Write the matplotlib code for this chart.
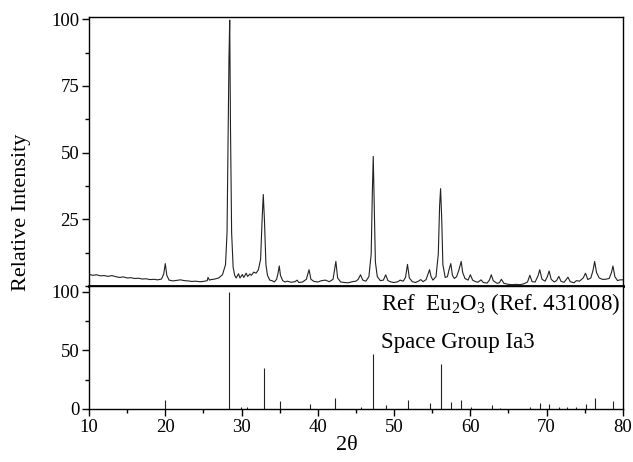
import matplotlib
matplotlib.use("Agg")
import matplotlib.pyplot as plt
from matplotlib.ticker import MultipleLocator

plt.rcParams["font.family"] = ["Liberation Serif", "DejaVu Serif"]
plt.rcParams["mathtext.fontset"] = "custom"
plt.rcParams["mathtext.rm"] = "Liberation Serif"

two_theta = [10.0, 10.5, 11.0, 11.5, 12.0, 12.5, 13.0, 13.5, 14.0, 14.5, 15.0, 15.5, 16.0, 16.5,
             17.0, 17.5, 18.0, 18.5, 19.0, 19.5, 19.8, 20.0, 20.2, 20.5, 21.0, 21.5, 22.0, 22.5,
             23.0, 23.5, 24.0, 24.5, 25.0, 25.5, 25.6, 25.8, 26.0, 26.5, 27.0, 27.5, 27.9, 28.1,
             28.25, 28.35, 28.45, 28.55, 28.7, 28.9, 29.1, 29.3, 29.6, 29.8, 30.1, 30.3, 30.6,
             30.8, 31.1, 31.3, 31.6, 31.9, 32.2, 32.5, 32.7, 32.85, 33.0, 33.2, 33.4, 33.7, 34.0,
             34.3, 34.6, 34.8, 34.95, 35.1, 35.4, 35.7, 36.0, 36.5, 37.0, 37.3, 37.5, 38.0, 38.5,
             38.85, 39.1, 39.5, 40.0, 40.5, 41.0, 41.5, 42.0, 42.37, 42.6, 43.0, 43.5, 44.0, 44.5,
             45.0, 45.3, 45.6, 45.9, 46.3, 46.7, 47.0, 47.15, 47.27, 47.4, 47.55, 47.8, 48.2, 48.6,
             48.9, 49.2, 49.6, 50.0, 50.5, 50.8, 51.2, 51.5, 51.76, 52.0, 52.4, 52.8, 53.2, 53.5,
             53.8, 54.2, 54.45, 54.65, 54.85, 55.1, 55.5, 55.8, 55.97, 56.1, 56.25, 56.4, 56.7,
             57.0, 57.2, 57.44, 57.65, 57.9, 58.2, 58.5, 58.8, 59.0, 59.3, 59.7, 60.0, 60.3, 60.7,
             61.0, 61.4, 61.7, 62.2, 62.5, 62.75, 63.0, 63.5, 63.8, 64.07, 64.4, 65.0, 65.5, 66.0,
             66.5, 67.0, 67.5, 67.8, 68.1, 68.5, 68.9, 69.1, 69.4, 69.8, 70.1, 70.33, 70.6, 71.0,
             71.3, 71.6, 71.9, 72.3, 72.8, 73.1, 73.6, 73.9, 74.3, 74.8, 75.1, 75.4, 75.8, 76.1,
             76.3, 76.55, 76.9, 77.3, 77.7, 78.2, 78.5, 78.7, 78.95, 79.3, 79.6, 80.0]
intensity = [4.4, 4.0, 4.2, 3.8, 3.9, 3.6, 3.9, 3.5, 3.2, 3.4, 3.0, 3.1, 2.8, 2.9,
             2.6, 2.7, 2.4, 2.5, 2.3, 2.6, 4.5, 8.4, 4.0, 2.2, 1.9, 2.1, 2.3, 2.0,
             1.9, 1.7, 1.8, 1.6, 1.7, 2.0, 3.2, 2.2, 2.4, 2.6, 3.0, 4.2, 8.0, 20.0,
             60.0, 85.0, 99.7, 60.0, 20.0, 7.0, 4.0, 3.0, 4.6, 3.0, 4.3, 3.2, 4.8,
             3.6, 4.5, 4.0, 5.2, 4.8, 6.0, 10.0, 25.0, 34.3, 25.0, 8.0, 4.0, 2.2, 2.0,
             1.5, 2.5, 5.0, 7.5, 4.0, 2.0, 1.5, 1.8, 1.4, 1.6, 2.2, 1.3, 1.5, 2.5,
             6.1, 2.5, 1.7, 1.5, 2.0, 2.2, 1.6, 2.5, 9.2, 3.0, 1.5, 1.3, 1.2, 1.6,
             1.8, 2.5, 4.2, 2.2, 1.8, 3.5, 12.0, 35.0, 48.6, 30.0, 9.0, 3.5, 2.0, 2.2,
             4.2, 2.0, 1.5, 1.3, 1.6, 2.2, 1.8, 3.2, 8.1, 3.0, 1.6, 1.3, 1.8, 2.4,
             1.6, 2.4, 4.5, 6.1, 3.5, 2.2, 3.5, 12.0, 30.0, 36.5, 25.0, 8.0, 3.2,
             3.5, 6.0, 8.4, 4.0, 2.8, 3.5, 6.0, 9.2, 5.0, 2.8, 2.2, 4.2, 2.2, 1.6,
             1.4, 2.3, 1.3, 1.1, 2.2, 4.2, 2.0, 1.0, 1.2, 2.5, 1.0, 0.6, 0.5, 0.6,
             0.5, 0.8, 1.5, 4.0, 1.6, 1.5, 4.0, 6.1, 2.5, 1.8, 3.5, 5.6, 2.5, 1.5,
             2.0, 3.6, 1.7, 1.4, 3.3, 1.6, 1.2, 2.0, 1.8, 3.0, 4.8, 2.4, 3.0, 6.0,
             9.2, 5.0, 3.0, 2.5, 2.5, 2.8, 5.0, 7.5, 3.5, 2.0, 2.3, 2.3]

# reference pattern Eu2O3 (Ref. 431008)
ref_pos = [20.0, 28.4, 29.9, 30.7, 32.95, 35.0, 39.0, 42.3, 45.6, 47.26, 48.9, 51.8, 54.7,
           56.1, 57.4, 58.8, 60.1, 62.8, 63.9, 67.8, 69.1, 70.3, 71.6, 72.7, 73.9, 75.1,
           76.3, 78.7]
ref_int = [8, 100, 2, 2, 35, 7, 4, 9, 2, 46.5, 3, 8, 5,
           38, 6, 8, 2, 3, 1, 2, 5, 4, 2, 2, 2, 4,
           9, 7]

fig = plt.figure(figsize=(6.33, 4.62), dpi=100)
ax1 = fig.add_axes([0.1406, 0.381, 0.8434, 0.583])
ax2 = fig.add_axes([0.1406, 0.115, 0.8434, 0.266])

ax1.plot(two_theta, intensity, color="#222222", lw=0.8)
ax1.set_xlim(10, 80)
ax1.set_ylim(0, 101)
ax1.set_xticks([])
ax1.yaxis.set_minor_locator(MultipleLocator(12.5))
ax1.set_yticks([25, 50, 75, 100])
ax1.spines["bottom"].set_linewidth(2)

ax2.vlines(ref_pos, 0, ref_int, color="#222222", lw=0.8)
ax2.set_xlim(10, 80)
ax2.set_ylim(0, 105)
ax2.set_yticks([0, 50, 100])
ax2.yaxis.set_minor_locator(MultipleLocator(25))
ax2.xaxis.set_major_locator(MultipleLocator(10))
ax2.xaxis.set_minor_locator(MultipleLocator(5))

for ax in (ax1, ax2):
    for s in ax.spines.values():
        s.set_color("black")
    ax.tick_params(direction="out", length=5, width=1, labelsize=13.5, pad=2)
    ax.tick_params(which="minor", direction="out", length=3, width=1)
    ax.spines["left"].set_linewidth(1)
    ax.spines["right"].set_linewidth(1)
ax1.spines["top"].set_linewidth(1)
ax2.spines["top"].set_linewidth(1)
ax2.spines["bottom"].set_linewidth(1)

ax2.text(48.3, 89.5, "Ref  Eu$_2$O$_3$ (Ref. 431008)", fontsize=16.5, va="center", ha="left")
ax2.text(48.3, 57, "Space Group Ia3", fontsize=16.5, va="center", ha="left")

fig.text(0.034, 0.54, "Relative Intensity", rotation=90, fontsize=16, ha="center", va="center")
fig.text(0.548, 0.035, "2θ", fontsize=16, ha="center", va="center")

fig.savefig("out.png", dpi=100)
